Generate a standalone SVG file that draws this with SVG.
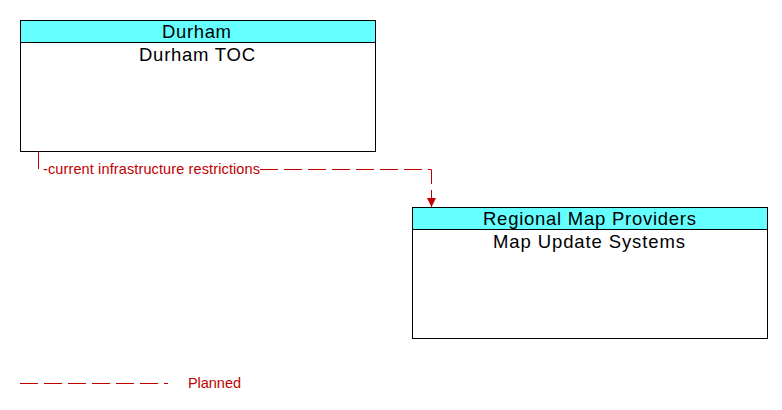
<svg xmlns="http://www.w3.org/2000/svg" width="782" height="410" viewBox="0 0 782 410">
<defs>
<style>
.box{fill:#fff;stroke:#000;stroke-width:1}
.hdr{fill:#66ffff;stroke:#000;stroke-width:1}
.t{font-family:"Liberation Sans",Arial,sans-serif;font-size:18.5px;fill:#000;text-anchor:middle}
.flow{fill:none;stroke:#c00000;stroke-width:1;stroke-dasharray:18 6}
.lbl{font-family:"Liberation Sans",Arial,sans-serif;font-size:14.5px;fill:#c00000}
</style>
<marker id="arr" viewBox="0 0 10 10" refX="10" refY="5" markerWidth="9" markerHeight="9" markerUnits="userSpaceOnUse" orient="auto">
<path d="M0,0 L10,5 L0,10 Z" fill="#c00000"/>
</marker>
</defs>
<rect width="782" height="410" fill="#fff"/>
<g id="node-durham-toc">
<rect class="box" x="20.5" y="20.5" width="355" height="131"/>
<rect class="hdr" x="20.5" y="20.5" width="355" height="22"/>
<text class="t" x="196.5" y="38" textLength="69" lengthAdjust="spacing">Durham</text>
<text class="t" x="197" y="61" textLength="116" lengthAdjust="spacing">Durham TOC</text>
</g>
<g id="node-map-update">
<rect class="box" x="412.5" y="207.5" width="355" height="131"/>
<rect class="hdr" x="412.5" y="207.5" width="355" height="22"/>
<text class="t" x="589.5" y="225" textLength="213" lengthAdjust="spacing">Regional Map Providers</text>
<text class="t" x="589" y="248" textLength="192" lengthAdjust="spacing">Map Update Systems</text>
</g>
<g id="connectors">
<path class="flow" d="M38.5,151 L38.5,169.5 L431.5,169.5 L431.5,207" marker-end="url(#arr)"/>
<rect x="42" y="162" width="218" height="15" fill="#fff"/>
<text class="lbl" x="43" y="174" textLength="217" lengthAdjust="spacing">-current infrastructure restrictions</text>
</g>
<g id="legend">
<line class="flow" x1="20" y1="383.5" x2="168" y2="383.5"/>
<text class="lbl" x="188" y="388" textLength="53" lengthAdjust="spacing">Planned</text>
</g>
</svg>
